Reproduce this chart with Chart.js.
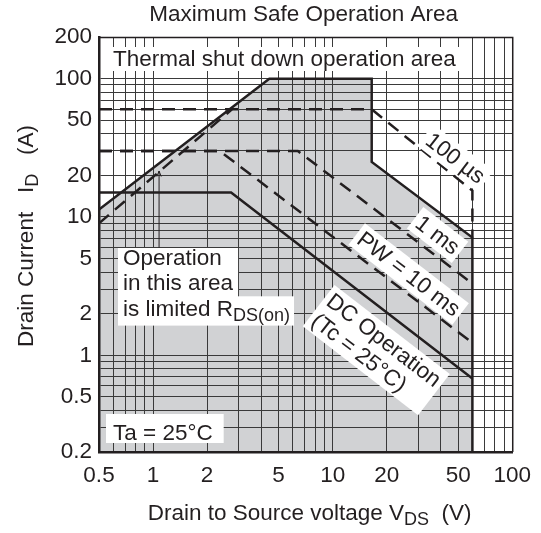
<!DOCTYPE html>
<html>
<head>
<meta charset="utf-8">
<title>Maximum Safe Operation Area</title>
<script src="https://cdn.jsdelivr.net/npm/chart.js"></script>
<style>
  html, body { margin: 0; padding: 0; background: #fff; }
</style>
</head>
<body>
<canvas id="chart" width="541" height="533"></canvas>
<script>
  // grey SOA envelope (drain-source voltage V, drain current A)
  const envelopeV = [0.5, 4.44, 16.5, 16.5, 60, 60];
  const envelopeI = [11.3, 100, 100, 25, 7.1, 0.2];
  // pulsed RDS(on) limit (dashed)
  const rdsPulseV = [0.5, 2.75];
  const rdsPulseI = [9.0, 60];
  // PW = 100 us
  const pw100usV = [0.5, 16.5, 60, 60];
  const pw100usI = [60, 60, 15.5, 7.1];
  // PW = 1 ms
  const pw1msV = [0.5, 6.4, 60];
  const pw1msI = [30, 30, 3.3];
  // PW = 10 ms
  const pw10msV = [0.5, 2.35, 60];
  const pw10msI = [30, 30, 1.23];
  // DC operation, Tc = 25 C
  const dcV = [0.5, 2.72, 60];
  const dcI = [15, 15, 0.68];
  // arrow pointing at the RDS(on) limit
  const arrowV = [1.08, 1.08];
  const arrowI = [6.0, 21.5];
  const arrowHeadV = [1.05, 1.08, 1.11];
  const arrowHeadI = [19.6, 21.5, 19.6];

  const xTickLabels = [0.5, 1, 2, 5, 10, 20, 50, 100];
  const yTickLabels = [0.2, 0.5, 1, 2, 5, 10, 20, 50, 100, 200];

  const curveLabels = [
    { lines: ['100 µs'], v: 48.2, i: 26.6 },
    { lines: ['1 ms'], v: 38.4, i: 7.4 },
    { lines: ['PW = 10 ms'], v: 26.5, i: 3.87 },
    { lines: ['DC Operation', '(Tc = 25°C)'], v: 17.5, i: 1.09 }
  ];

  const FONT = '"Liberation Sans", Arial, Helvetica, sans-serif';
  const TXT = '#231f20';
  const GRID = '#3a3a3a';
  const FILL = 'rgb(209,210,212)';
  const FS = 22.5;
  const SUB = 18;

  function decadeGrid(min, max) {
    const out = [];
    for (let p = 0.01; p <= 1000; p *= 10) {
      for (let m = 1; m <= 9; m++) {
        const v = Number((m * p).toPrecision(3));
        if (v >= min - 1e-9 && v <= max + 1e-9 && !out.includes(v)) out.push(v);
      }
    }
    return out;
  }
  const gridX = decadeGrid(0.5, 100);
  const gridY = decadeGrid(0.2, 200);

  const pts = (vs, is) => vs.map((v, k) => ({ x: v, y: is[k] }));
  const line = (vs, is, extra) => Object.assign({
    data: pts(vs, is),
    showLine: true,
    borderColor: TXT,
    borderWidth: 2.5,
    pointRadius: 0,
    fill: false
  }, extra || {});
  const DASH = [13, 8];

  const font = size => size + 'px ' + FONT;

  function drawRich(ctx, parts, x, y) {
    let cx = x;
    parts.forEach(p => {
      ctx.font = font(p.sub ? SUB : FS);
      ctx.fillText(p.t, cx, p.sub ? y + 5 : y);
      cx += ctx.measureText(p.t).width;
    });
    return cx;
  }
  function richWidth(ctx, parts) {
    let w = 0;
    parts.forEach(p => {
      ctx.font = font(p.sub ? SUB : FS);
      w += ctx.measureText(p.t).width;
    });
    return w;
  }

  const annotations = {
    id: 'annotations',
    afterDraw(chart) {
      const { ctx, chartArea: a } = chart;
      const xs = chart.scales.x, ys = chart.scales.y;
      ctx.save();
      ctx.textAlign = 'left';
      ctx.textBaseline = 'alphabetic';

      // thermal shut down band
      ctx.font = font(FS);
      const thermal = 'Thermal shut down operation area';
      const tx = a.left + 14, tb = a.top + 29;
      const tw = ctx.measureText(thermal).width;
      ctx.fillStyle = '#fff';
      ctx.fillRect(a.left + 2, tb - 19, tx + tw + 8 - (a.left + 2), 24);
      ctx.fillStyle = TXT;
      ctx.fillText(thermal, tx, tb);

      // top and right frame
      ctx.strokeStyle = TXT;
      ctx.lineWidth = 1.5;
      ctx.beginPath();
      ctx.moveTo(a.left, a.top + 0.5);
      ctx.lineTo(a.right + 0.5, a.top + 0.5);
      ctx.lineTo(a.right + 0.5, a.bottom);
      ctx.stroke();

      // RDS(on) note
      const ox = a.left + 24, ob = a.top + 228, lh = 25.3;
      const l1 = 'Operation', l2 = 'in this area';
      const l3 = [{ t: 'is limited R' }, { t: 'DS(on)', sub: true }];
      ctx.font = font(FS);
      const w12 = Math.max(ctx.measureText(l1).width, ctx.measureText(l2).width);
      const w3 = richWidth(ctx, l3);
      ctx.fillStyle = '#fff';
      ctx.fillRect(ox - 5, ob - 17, w12 + 10, lh * 2 + 6);
      ctx.fillRect(ox - 5, ob + lh + 6, w3 + 9, lh + 4);
      ctx.fillStyle = TXT;
      ctx.font = font(FS);
      ctx.fillText(l1, ox, ob);
      ctx.fillText(l2, ox, ob + lh);
      drawRich(ctx, l3, ox, ob + 2 * lh);

      // ambient temperature
      ctx.font = font(FS);
      const ta = 'Ta = 25°C';
      const tax = a.left + 14, tab = a.bottom - 12;
      const taw = ctx.measureText(ta).width;
      ctx.fillStyle = '#fff';
      ctx.fillRect(tax - 7, tab - 26, taw + 18, 29);
      ctx.fillStyle = TXT;
      ctx.fillText(ta, tax, tab);

      // curve labels, rotated along constant-power lines
      const ang = Math.atan2(ys.getPixelForValue(1) - ys.getPixelForValue(10),
                             xs.getPixelForValue(10) - xs.getPixelForValue(1));
      curveLabels.forEach(lab => {
        const cx = xs.getPixelForValue(lab.v), cy = ys.getPixelForValue(lab.i);
        ctx.save();
        ctx.translate(cx, cy);
        ctx.rotate(ang);
        ctx.font = font(FS);
        const w = Math.max(...lab.lines.map(s => ctx.measureText(s).width));
        const h = lab.lines.length * 25;
        ctx.fillStyle = '#fff';
        ctx.fillRect(-w / 2 - 4, -h / 2 - 1, w + 8, h + 2);
        ctx.fillStyle = TXT;
        ctx.textBaseline = 'middle';
        lab.lines.forEach((s, k) => ctx.fillText(s, -w / 2, -h / 2 + 25 * (k + 0.5) + 1));
        ctx.restore();
      });

      // chart title
      ctx.textBaseline = 'alphabetic';
      ctx.textAlign = 'center';
      ctx.font = font(FS);
      ctx.fillText('Maximum Safe Operation Area', (a.left + a.right) / 2 - 2, 21);

      // axis titles
      ctx.textAlign = 'left';
      const xt = [{ t: 'Drain to Source voltage V' }, { t: 'DS', sub: true }, { t: '  (V)' }];
      const xw = richWidth(ctx, xt);
      drawRich(ctx, xt, (a.left + a.right) / 2 + 4 - xw / 2, 520);

      const yt = [{ t: 'Drain Current   I' }, { t: 'D', sub: true }, { t: '   (A)' }];
      const yw = richWidth(ctx, yt);
      ctx.save();
      ctx.translate(33, 236);
      ctx.rotate(-Math.PI / 2);
      drawRich(ctx, yt, -yw / 2, 0);
      ctx.restore();

      ctx.restore();
    }
  };

  const config = {
    type: 'scatter',
    data: {
      datasets: [
        line(envelopeV, envelopeI, { fill: 'start', backgroundColor: FILL }),
        line(rdsPulseV, rdsPulseI, { borderDash: DASH }),
        line(pw100usV, pw100usI, { borderDash: DASH }),
        line(pw1msV, pw1msI, { borderDash: DASH }),
        line(pw10msV, pw10msI, { borderDash: DASH }),
        line(dcV, dcI),
        line(arrowV, arrowI, { borderWidth: 1 }),
        line(arrowHeadV, arrowHeadI, { borderWidth: 1 })
      ]
    },
    options: {
      responsive: false,
      animation: false,
      layout: { padding: { top: 37, right: 27, bottom: 0, left: 0 } },
      plugins: {
        legend: { display: false },
        tooltip: { enabled: false },
        filler: { drawTime: 'beforeDraw' }
      },
      scales: {
        x: {
          type: 'logarithmic',
          min: 0.5,
          max: 100,
          afterBuildTicks: s => { s.ticks = gridX.map(v => ({ value: v })); },
          afterFit: s => { s.height = 81; },
          grid: { color: GRID, lineWidth: 1, drawTicks: false },
          border: { display: true, color: TXT, width: 2.5 },
          ticks: {
            autoSkip: false, maxRotation: 0, minRotation: 0, padding: 10,
            color: TXT, font: { family: FONT, size: FS },
            callback: v => xTickLabels.includes(v) ? String(v) : ''
          }
        },
        y: {
          type: 'logarithmic',
          min: 0.2,
          max: 200,
          afterBuildTicks: s => { s.ticks = gridY.map(v => ({ value: v })); },
          afterFit: s => { s.width = 99; },
          grid: { color: GRID, lineWidth: 1, drawTicks: false },
          border: { display: true, color: TXT, width: 2.5 },
          ticks: {
            autoSkip: false, padding: 7,
            color: TXT, font: { family: FONT, size: FS },
            callback: v => yTickLabels.includes(v) ? String(v) : ''
          }
        }
      }
    },
    plugins: [annotations]
  };

  new Chart(document.getElementById('chart'), config);
</script>
</body>
</html>
